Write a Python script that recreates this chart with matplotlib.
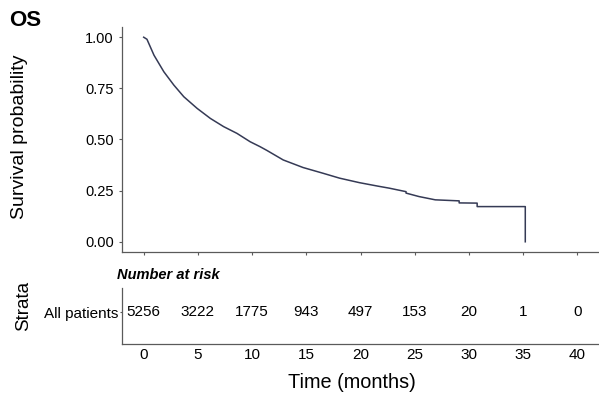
import numpy as np
import matplotlib.pyplot as plt

plt.rcParams['font.family'] = ['Liberation Sans', 'DejaVu Sans']

# survival curve (months, probability)
times = [0, 0.3, 0.95, 1.86, 2.78, 3.70, 4.93, 6.15, 7.37, 8.6, 9.82, 10.73, 11.35, 12.87,
         14.7, 16.54, 18.07, 19.9, 21.6, 22.66, 24.2, 24.2, 25.4, 26.9,
         29.1, 29.1, 30.76, 30.76, 35.2, 35.2]
surv = [1.0, 0.99, 0.912, 0.831, 0.766, 0.709, 0.652, 0.603, 0.563, 0.530, 0.489, 0.465, 0.447, 0.40,
        0.363, 0.335, 0.311, 0.289, 0.272, 0.262, 0.245, 0.238, 0.221, 0.205,
        0.20, 0.19, 0.189, 0.172, 0.172, 0.0]

risk_times = [0, 5, 10, 15, 20, 25, 30, 35, 40]
risk_counts = [5256, 3222, 1775, 943, 497, 153, 20, 1, 0]
y_ticks = [0.00, 0.25, 0.50, 0.75, 1.00]

line_col = '#353a55'
spine_col = '#5a5a5a'

fig = plt.figure(figsize=(5.99, 3.94), dpi=100)
ax = fig.add_axes([0.2037, 0.3604, 0.7963, 0.5711])
tab = fig.add_axes([0.2037, 0.127, 0.7963, 0.142])

ax.plot(times, surv, color=line_col, linewidth=1.1)
ax.set_xlim(-2, 42)
ax.set_ylim(-0.05, 1.05)
ax.set_xticks(risk_times)
ax.set_xticklabels([])
ax.set_yticks(y_ticks)
ax.set_yticklabels([f'{v:.2f}' for v in y_ticks], fontsize=10.5)
ax.set_ylabel('Survival probability', fontsize=14, va='center')
ax.yaxis.set_label_coords(-0.214, 0.51)
for s in ['top', 'right']:
    ax.spines[s].set_visible(False)
for s in ['left', 'bottom']:
    ax.spines[s].set_color(spine_col)
    ax.spines[s].set_linewidth(0.9)
ax.tick_params(colors=spine_col, length=2.5, width=0.8, labelcolor='black')

fig.text(0.015, 0.949, 'OS', fontsize=16, fontweight='bold', va='center', ha='left')

# number at risk table
for t, n in zip(risk_times, risk_counts):
    tab.text(t, 0.57, str(n), fontsize=11, ha='center', va='center')
tab.set_xlim(-2, 42)
tab.set_ylim(0, 1)
tab.set_xticks(risk_times)
tab.set_xticklabels([str(t) for t in risk_times], fontsize=11)
tab.set_yticks([0.57])
tab.set_yticklabels(['All patients'], fontsize=11)
tab.tick_params(axis='x', length=0, pad=3)
tab.tick_params(axis='y', length=1.5, colors=spine_col, labelcolor='black', pad=1)
for s in ['top', 'right']:
    tab.spines[s].set_visible(False)
for s in ['left', 'bottom']:
    tab.spines[s].set_color(spine_col)
    tab.spines[s].set_linewidth(0.9)
tab.set_ylabel('Strata', fontsize=13.5, va='center')
tab.yaxis.set_label_coords(-0.2065, 0.68)
tab.set_xlabel('Time (months)', fontsize=14.3, va='center')
tab.xaxis.set_label_coords(0.481, -0.68)
tab.text(-2.5, 1.23, 'Number at risk', fontsize=10.5, fontweight='bold',
         fontstyle='italic', ha='left', va='center')

fig.savefig('out.png', dpi=100)
